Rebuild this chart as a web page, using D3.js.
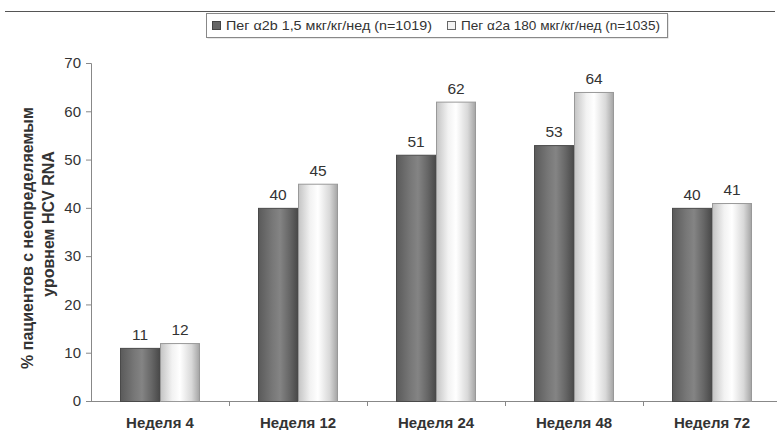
<!DOCTYPE html>
<html><head><meta charset="utf-8">
<script src="https://cdn.jsdelivr.net/npm/d3@7/dist/d3.min.js"></script>
<style>body{margin:0;background:#fff}svg{display:block;font-family:"Liberation Sans",Arial,sans-serif}</style>
</head><body><svg id="c" width="777" height="430"></svg>
<script>
const categories = ["Неделя 4","Неделя 12","Неделя 24","Неделя 48","Неделя 72"];
const seriesNames = ["Пег α2b 1,5 мкг/кг/нед (n=1019)","Пег α2a 180 мкг/кг/нед (n=1035)"];
const seriesA = [11,40,51,53,40];
const seriesB = [12,45,62,64,41];
const yTicks = [0,10,20,30,40,50,60,70];
const yTitle = ["% пациентов с неопределяемым","уровнем HCV RNA"];

const svg = d3.select("#c");
const defs = svg.append("defs");
function grad(id, stops){
  const g = defs.append("linearGradient").attr("id",id).attr("x1","0").attr("x2","1").attr("y1","0").attr("y2","0");
  stops.forEach(s=>g.append("stop").attr("offset",s[0]).attr("stop-color",s[1]));
}
grad("gDark",[[0,"#5a5a5a"],[0.35,"#777"],[0.55,"#848484"],[0.8,"#666"],[1,"#4a4a4a"]]);
grad("gLight",[[0,"#c4c4c4"],[0.3,"#f2f2f2"],[0.5,"#ffffff"],[0.8,"#d8d8d8"],[1,"#a4a4a4"]]);

const pLeft = 91, pRight = 781, pTop = 63, pBottom = 401;
const x = d3.scaleBand().domain(categories).range([pLeft,pRight]).paddingInner(0).paddingOuter(0);
const y = d3.scaleLinear().domain([0,70]).range([pBottom,pTop]);
const bw = 40;

// top rule
svg.append("line").attr("x1",5).attr("x2",775).attr("y1",11.5).attr("y2",11.5).attr("stroke","#555").attr("stroke-width",1.2);

// legend
const lg = svg.append("g");
lg.append("rect").attr("x",207.5).attr("y",14.5).attr("width",461).attr("height",24).attr("fill","#d0d0d0");
lg.append("rect").attr("x",206.5).attr("y",13.5).attr("width",461).attr("height",24).attr("fill","#fff").attr("stroke","#888");
lg.append("rect").attr("x",212.5).attr("y",21.5).attr("width",8).attr("height",8).attr("fill","#666").attr("stroke","#444");
lg.append("text").attr("x",226).attr("y",30).attr("font-size",13).attr("fill","#333")
  .attr("textLength",206).attr("lengthAdjust","spacingAndGlyphs").text(seriesNames[0]);
lg.append("rect").attr("x",447.5).attr("y",21.5).attr("width",8).attr("height",8).attr("fill","#f4f4f4").attr("stroke","#666");
lg.append("text").attr("x",461).attr("y",30).attr("font-size",13).attr("fill","#333")
  .attr("textLength",199).attr("lengthAdjust","spacingAndGlyphs").text(seriesNames[1]);

// y axis
const ya = svg.append("g").attr("transform",`translate(${pLeft},0)`)
  .call(d3.axisLeft(y).tickValues(yTicks).tickSize(5).tickPadding(5));
ya.select(".domain").attr("stroke","#888");
ya.selectAll(".tick line").attr("stroke","#888");
ya.selectAll(".tick text").attr("font-size",15).attr("fill","#333").attr("font-family","Liberation Sans, Arial, sans-serif");

// x axis
svg.append("line").attr("x1",pLeft).attr("x2",777).attr("y1",pBottom+0.5).attr("y2",pBottom+0.5).attr("stroke","#888");
categories.slice(1).forEach(c=>{
  const xx = Math.round(x(c))+0.5;
  svg.append("line").attr("x1",xx).attr("x2",xx).attr("y1",pBottom).attr("y2",pBottom+5).attr("stroke","#888");
});
categories.forEach(c=>{
  svg.append("text").attr("x",x(c)+x.bandwidth()/2).attr("y",428).attr("text-anchor","middle")
    .attr("font-size",15).attr("font-weight","bold").attr("fill","#333").text(c);
});

// bars
const groups = [[seriesA,"url(#gDark)","#4a4a4a",-bw],[seriesB,"url(#gLight)","#999",0]];
groups.forEach(([vals,fill,stroke,off])=>{
  categories.forEach((c,i)=>{
    const cx = x(c)+x.bandwidth()/2;
    svg.append("rect").attr("x",cx+off+0.5).attr("y",y(vals[i])+0.5).attr("width",bw-1).attr("height",pBottom-y(vals[i]))
      .attr("fill",fill).attr("stroke",stroke).attr("stroke-width",1);
    svg.append("text").attr("x",cx+off+bw/2).attr("y",y(vals[i])-8).attr("text-anchor","middle")
      .attr("font-size",15.5).attr("fill","#333").text(vals[i]);
  });
});

// y title
const yt = svg.append("text").attr("transform","rotate(-90)")
  .attr("text-anchor","middle").attr("font-size",16).attr("font-weight","bold").attr("fill","#333");
yt.append("tspan").attr("x",-238).attr("y",33).text(yTitle[0]);
yt.append("tspan").attr("x",-224).attr("y",54).text(yTitle[1]);
</script></body></html>
